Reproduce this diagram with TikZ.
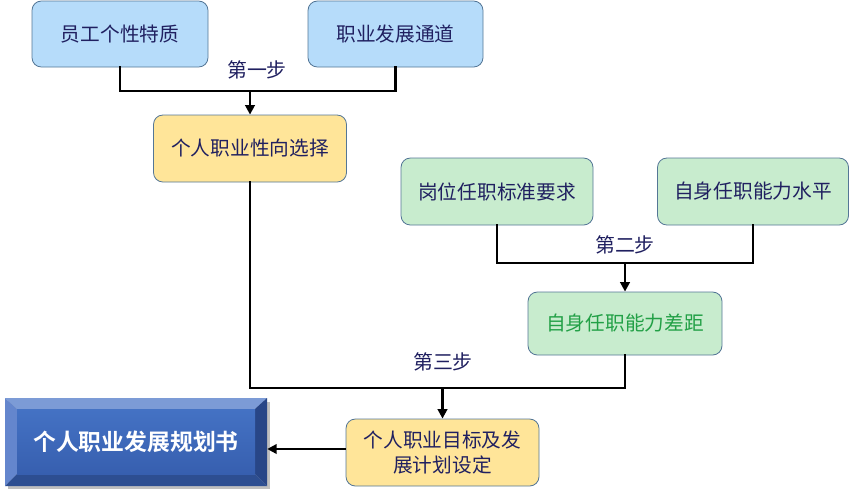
\documentclass[tikz,border=0pt]{standalone}
\usepackage{fontspec}
\newfontfamily\cjk{Noto Sans CJK SC}[BoldFont={* Bold}]
\usetikzlibrary{arrows.meta,positioning}
\definecolor{navytext}{RGB}{32,32,96}
\definecolor{boxedge}{RGB}{84,118,150}
\definecolor{bluefill}{RGB}{182,220,250}
\definecolor{yellowfill}{RGB}{255,229,153}
\definecolor{greenfill}{RGB}{200,236,206}
\definecolor{greentext}{RGB}{34,160,70}
\definecolor{bigface}{RGB}{68,114,196}
\definecolor{bigfaceb}{RGB}{55,95,175}
\definecolor{bevtop}{RGB}{124,155,214}
\definecolor{bevleft}{RGB}{100,134,205}
\definecolor{bevright}{RGB}{40,70,135}
\definecolor{bevbot}{RGB}{45,78,145}
\tikzset{
  card/.style={draw=boxedge, line width=0.7pt, rounded corners=8pt, align=center,
    text=navytext, font=\cjk\fontsize{16.8}{21}\selectfont, inner sep=0pt},
  bluecard/.style={card, fill=bluefill},
  yellowcard/.style={card, fill=yellowfill},
  greencard/.style={card, fill=greenfill},
  steplabel/.style={text=navytext, font=\cjk\fontsize{17}{20}\selectfont, inner sep=0pt},
  link/.style={line width=2.5pt, line cap=rect},
  arrowlink/.style={line width=2.5pt, -{Triangle[length=8pt,width=8pt]}},
}
\begin{document}
\begin{tikzpicture}[x=0.03cm,y=-0.03cm]
\useasboundingbox (0,0) rectangle (850,490);
% nodes
\node[bluecard, minimum width=176*0.03cm, minimum height=66*0.03cm] (b1) at (120,34) {员工个性特质};
\node[bluecard, minimum width=175*0.03cm, minimum height=66*0.03cm] (b2) at (395.5,34) {职业发展通道};
\node[yellowcard, minimum width=193*0.03cm, minimum height=67*0.03cm] (b3) at (250,148.5) {个人职业性向选择};
\node[greencard, minimum width=192*0.03cm, minimum height=67*0.03cm] (b4) at (497,191.5) {岗位任职标准要求};
\node[greencard, minimum width=191*0.03cm, minimum height=67*0.03cm] (b5) at (753,191.5) {自身任职能力水平};
\node[greencard, minimum width=194*0.03cm, minimum height=63*0.03cm, text=greentext] (b6) at (625,323.5) {自身任职能力差距};
\node[yellowcard, minimum width=193*0.03cm, minimum height=67*0.03cm] (b7) at (442.5,452.5) {个人职业目标及发\\展计划设定};
% big beveled box
\fill[black!25] (8,402) rectangle (270,489);
\fill[bevtop] (5,398) -- (267,398) -- (255,409) -- (17,409) -- cycle;
\fill[bevleft] (5,398) -- (17,409) -- (17,474) -- (5,486) -- cycle;
\fill[bevright] (267,398) -- (267,486) -- (255,474) -- (255,409) -- cycle;
\fill[bevbot] (5,486) -- (17,474) -- (255,474) -- (267,486) -- cycle;
\shade[top color=bigface, bottom color=bigfaceb] (17,409) rectangle (255,474);
\node[inner sep=0pt, minimum width=262*0.03cm, minimum height=88*0.03cm, text=white,
  font=\cjk\bfseries\fontsize{19.5}{22}\selectfont] (big) at (136,442) {个人职业发展规划书};
% junctions
\coordinate (j1) at (250,91);
\coordinate (j2) at (625,263);
\coordinate (j3) at (442.5,388);
% connectors
\draw[link] (b1.south) |- (j1) -| (b2.south);
\draw[arrowlink] (j1) -- (b3.north);
\draw[link] (b4.south) |- (j2) -| (b5.south);
\draw[arrowlink] (j2) -- (b6.north);
\draw[link] (b3.south) |- (j3) -| (b6.south);
\draw[arrowlink] (j3) -- (b7.north);
\draw[arrowlink] (b7.west |- 0,449) -- (big.east |- 0,449);
% step labels
\node[steplabel] (s1) at (257,70) {第一步};
\node[steplabel] (s2) at (625,245) {第二步};
\node[steplabel] (s3) at (443,362) {第三步};
\end{tikzpicture}
\end{document}
